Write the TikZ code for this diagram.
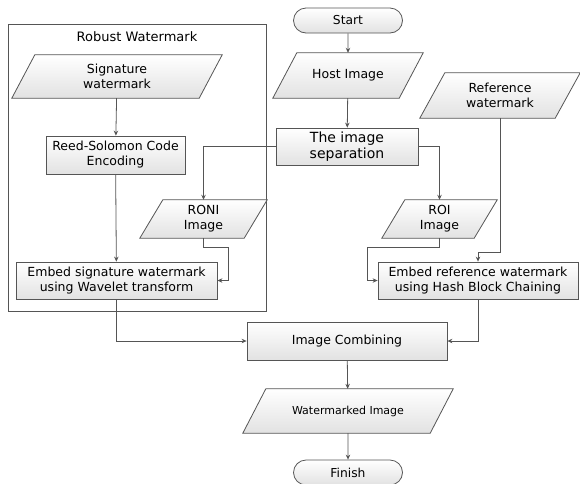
\documentclass[tikz,border=0pt]{standalone}
\usepackage{fontspec}
\setmainfont{DejaVu Sans}
\usetikzlibrary{arrows.meta,shapes.misc,backgrounds,calc}
\definecolor{ln}{HTML}{555555}
\definecolor{fillb}{HTML}{E2E2E2}
\newcommand\pgdraw[2]{%
  \begin{scope}[on background layer]
  \path[draw=ln, line width=0.8pt, top color=white, bottom color=fillb]
    ([xshift=#2/2]#1.north west) -- ([xshift=#2/2]#1.north east) --
    ([xshift=-#2/2]#1.south east) -- ([xshift=-#2/2]#1.south west) -- cycle;
  \end{scope}}
\begin{document}
\begin{tikzpicture}[x=1pt,y=-1pt,
  arr/.style={draw=ln, line width=0.8pt, -{Stealth[length=5pt,width=4.5pt]}},
  box/.style={draw=ln, line width=0.8pt, top color=white, bottom color=fillb,
    align=center, inner sep=0pt, font=\fontsize{12.5}{15}\selectfont},
  ptext/.style={align=center, inner sep=0pt, font=\fontsize{12.5}{15}\selectfont},
  term/.style={rounded rectangle, draw=ln, line width=0.8pt, top color=white,
    bottom color=fillb, minimum width=109pt, minimum height=25pt, inner sep=0pt,
    font=\fontsize{12.3}{15}\selectfont}]
\useasboundingbox (0,0) rectangle (580,483);
\begin{scope}[on background layer]
\node[draw=ln, line width=0.8pt, minimum width=258pt, minimum height=287pt, inner sep=0pt] (frame) at (137,167.5) {};
\end{scope}
\node[font=\fontsize{13}{15}\selectfont] (title) at (137,37) {Robust Watermark};
% terminals
\node[term] (start) at (348,20.5) {Start};
\node[term] (finish) at (348,472.5) {Finish};
% parallelograms
\node[ptext, minimum width=187pt, minimum height=43pt] (sig) at (117,76.5) {Signature\\watermark};
\pgdraw{sig}{23}
\node[ptext, minimum width=126pt, minimum height=45pt] (host) at (348,75.5) {Host Image};
\pgdraw{host}{24}
\node[ptext, minimum width=135pt, minimum height=45pt] (ref) at (500,95.5) {Reference\\watermark};
\pgdraw{ref}{25}
\node[ptext, minimum width=104pt, minimum height=38pt] (roni) at (203.5,219) {RONI\\Image};
\pgdraw{roni}{23}
\node[ptext, minimum width=92pt, minimum height=38pt] (roi) at (439.5,219) {ROI\\Image};
\pgdraw{roi}{23}
\node[ptext, minimum width=187pt, minimum height=44pt, font=\fontsize{11}{13}\selectfont] (wm) at (348,411) {Watermarked Image};
\pgdraw{wm}{23}
% boxes
\node[box, minimum width=139pt, minimum height=38pt] (rs) at (115.5,155) {Reed-Solomon Code\\Encoding};
\node[box, minimum width=201pt, minimum height=37pt] (embsig) at (116.5,280.5) {Embed signature watermark\\using Wavelet transform};
\node[box, minimum width=142pt, minimum height=37pt, font=\fontsize{14}{16}\selectfont] (sep) at (347,146.5) {The image\\separation};
\node[box, minimum width=200pt, minimum height=37pt] (embref) at (478,280.5) {Embed reference watermark\\using Hash Block Chaining};
\node[box, minimum width=200pt, minimum height=38pt] (comb) at (347,341) {Image Combining};
% junctions
\coordinate (j1) at (0,252);
\coordinate (k1) at (367,247);
\coordinate (k2) at (228,247);
% connectors
\draw[arr] (start) -- (host);
\draw[arr] (host) -- (sep);
\draw[arr] (sep.west) -| (roni.north);
\draw[arr] (sep.east) -| (roi.north);
\draw[arr] (ref.south) -- (ref.south |- j1) -| (embref.north);
\draw[arr] (roi.south) |- (k1) |- (embref.west);
\draw[arr] (roni.south) |- (k2) |- (embsig.east);
\draw[arr] (sig) -- (rs);
\draw[arr] (rs) -- (embsig);
\draw[arr] (embsig.south) |- (comb.west);
\draw[arr] (embref.south) |- (comb.east);
\draw[arr] (comb) -- (wm);
\draw[arr] (wm) -- (finish);
\end{tikzpicture}
\end{document}
